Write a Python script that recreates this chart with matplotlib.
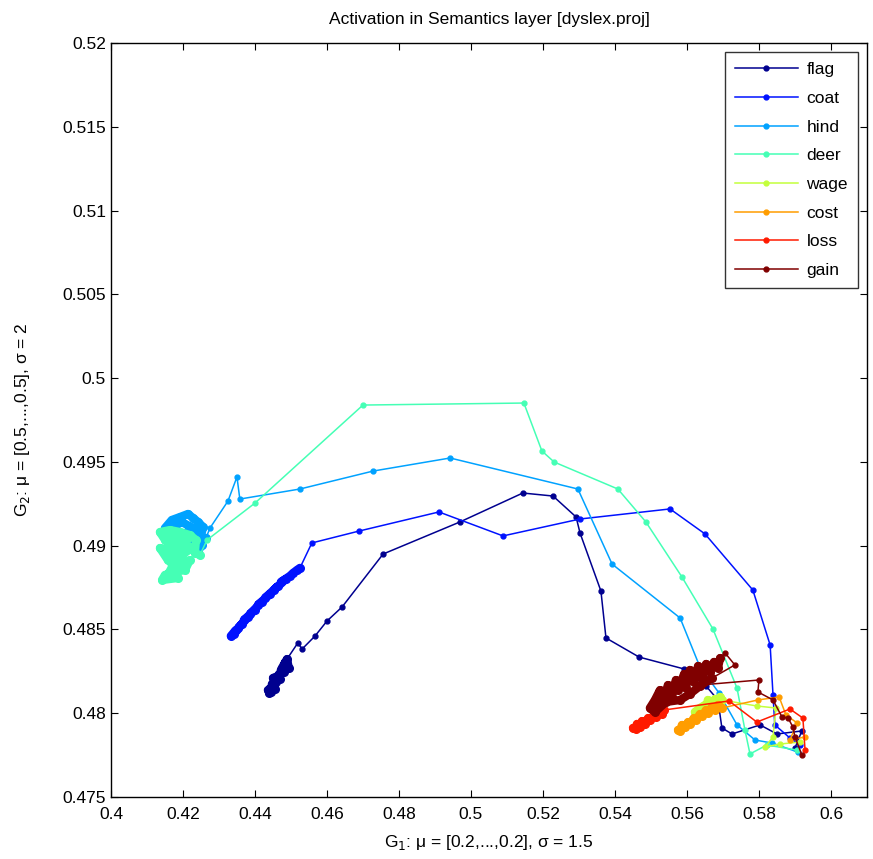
import numpy as np
import matplotlib
matplotlib.use("Agg")
from matplotlib import pyplot as plt

plt.rcParams['font.family'] = ['Liberation Sans', 'DejaVu Sans']

words = ["flag", "coat", "hind", "deer", "wage", "cost", "loss", "gain"]
colors = ['#00008F', '#0012FF', '#00A2FF', '#45FFB5', '#C3FF3C', '#FF9D00', '#FF1A00', '#800000']

# trajectories: from the common start (bottom right) out to the settling point
flag_path_x = [0.5900, 0.5919, 0.5850, 0.5803, 0.5725, 0.5697, 0.5686, 0.5653, 0.5592, 0.5467, 0.5375, 0.5361,
               0.5303, 0.5292, 0.5228, 0.5144, 0.4969, 0.4756, 0.4642, 0.4600, 0.4567, 0.4531, 0.4519]
flag_path_y = [0.47792, 0.47894, 0.47876, 0.47930, 0.47876, 0.47912, 0.48079, 0.48162, 0.48264, 0.48335, 0.48449, 0.48729,
               0.49075, 0.49171, 0.49296, 0.49314, 0.49141, 0.48950, 0.48634, 0.48550, 0.48461, 0.48383, 0.48419]
flag_end_x = [0.4489, 0.4494, 0.4481, 0.4486, 0.4475, 0.4472, 0.4481, 0.4467, 0.4464, 0.4450,
              0.4469, 0.4458, 0.4458, 0.4447, 0.4453, 0.4442, 0.4456, 0.4436, 0.4444, 0.4439]
flag_end_y = [0.48323, 0.48270, 0.48288, 0.48312, 0.48270, 0.48258, 0.48246, 0.48234, 0.48222, 0.48210,
              0.48204, 0.48198, 0.48186, 0.48174, 0.48162, 0.48150, 0.48144, 0.48138, 0.48127, 0.48121]

coat_path_x = [0.5914, 0.5886, 0.5844, 0.5839, 0.5831, 0.5783, 0.5650, 0.5553, 0.5303, 0.5089, 0.4911, 0.4689, 0.4558]
coat_path_y = [0.47810, 0.47852, 0.47930, 0.48109, 0.48407, 0.48735, 0.49070, 0.49219, 0.49159, 0.49058, 0.49201, 0.49087, 0.49016]
coat_end_x = [0.4525, 0.4517, 0.4506, 0.4497, 0.4472, 0.4486, 0.4453, 0.4464, 0.4428, 0.4442, 0.4408,
              0.4419, 0.4386, 0.4400, 0.4369, 0.4381, 0.4353, 0.4364, 0.4342, 0.4347, 0.4333]
coat_end_y = [0.48867, 0.48855, 0.48837, 0.48819, 0.48783, 0.48801, 0.48735, 0.48759, 0.48688, 0.48711, 0.48646,
              0.48664, 0.48592, 0.48616, 0.48556, 0.48574, 0.48508, 0.48532, 0.48473, 0.48497, 0.48461]

hind_path_x = [0.5908, 0.5836, 0.5789, 0.5739, 0.5689, 0.5636, 0.5581, 0.5392, 0.5297, 0.4942, 0.4728, 0.4525,
               0.4358, 0.4350, 0.4325, 0.4275]
hind_path_y = [0.47768, 0.47822, 0.47840, 0.47930, 0.48121, 0.48276, 0.48568, 0.48890, 0.49338, 0.49523, 0.49445, 0.49338,
               0.49278, 0.49410, 0.49266, 0.49105]
hind_end_x = [0.4264, 0.4247, 0.4256, 0.4242, 0.4228, 0.4214, 0.4192, 0.4169, 0.4150, 0.4178, 0.4197, 0.4217,
              0.4236, 0.4206, 0.4164, 0.4186, 0.4233, 0.4253, 0.4242, 0.4219]
hind_end_y = [0.49046, 0.49034, 0.49111, 0.49141, 0.49165, 0.49189, 0.49171, 0.49153, 0.49105, 0.49117, 0.49141, 0.49117,
              0.49093, 0.49075, 0.49075, 0.49046, 0.49046, 0.49004, 0.48968, 0.49004]

deer_path_x = [0.5906, 0.5822, 0.5775, 0.5761, 0.5739, 0.5672, 0.5586, 0.5486, 0.5408, 0.5231, 0.5197, 0.5147,
               0.4700, 0.4400, 0.4267]
deer_path_y = [0.47780, 0.47810, 0.47757, 0.47900, 0.48150, 0.48503, 0.48813, 0.49141, 0.49338, 0.49499, 0.49565, 0.49851,
               0.49839, 0.49254, 0.49034]
deer_end_x = [0.4247, 0.4233, 0.4236, 0.4219, 0.4192, 0.4164, 0.4136, 0.4150, 0.4178, 0.4206, 0.4225, 0.4197,
              0.4164, 0.4136, 0.4158, 0.4192, 0.4219, 0.4206, 0.4178, 0.4150, 0.4142, 0.4186,
              0.4172, 0.4158, 0.4194, 0.4168, 0.4212, 0.4147, 0.4183, 0.4161]
deer_end_y = [0.48944, 0.48956, 0.49034, 0.49063, 0.49081, 0.49093, 0.49081, 0.49034, 0.49034, 0.49004, 0.48986, 0.48944,
              0.48974, 0.48986, 0.48914, 0.48884, 0.48914, 0.48855, 0.48843, 0.48825, 0.48795, 0.48807,
              0.48870, 0.48945, 0.48960, 0.49010, 0.49040, 0.49058, 0.48925, 0.48838]

wage_path_x = [0.5914, 0.5858, 0.5817, 0.5839, 0.5847, 0.5794]
wage_path_y = [0.47828, 0.47816, 0.47798, 0.47858, 0.48031, 0.48043]
wage_end_x = [0.5697, 0.5692, 0.5686, 0.5678, 0.5669, 0.5664, 0.5658, 0.5653, 0.5650, 0.5636, 0.5622, 0.5636]
wage_end_y = [0.48079, 0.48097, 0.48061, 0.48085, 0.48037, 0.48067, 0.48079, 0.48019, 0.48049, 0.48031, 0.48007, 0.47995]

cost_path_x = [0.5928, 0.5886, 0.5906, 0.5875, 0.5856, 0.5797]
cost_path_y = [0.47858, 0.47840, 0.47942, 0.47989, 0.48097, 0.48079]
cost_end_x = [0.5697, 0.5686, 0.5678, 0.5669, 0.5658, 0.5653, 0.5642, 0.5636, 0.5625, 0.5619, 0.5608, 0.5603,
              0.5594, 0.5586, 0.5581, 0.5575]
cost_end_y = [0.48031, 0.48049, 0.48019, 0.48037, 0.48001, 0.48019, 0.47983, 0.47995, 0.47959, 0.47971, 0.47936, 0.47947,
              0.47918, 0.47930, 0.47894, 0.47900]

loss_path_x = [0.5928, 0.5922, 0.5886, 0.5794, 0.5717]
loss_path_y = [0.47780, 0.47971, 0.48025, 0.47947, 0.48073]
loss_end_x = [0.5536, 0.5531, 0.5525, 0.5514, 0.5508, 0.5497, 0.5492, 0.5483, 0.5475, 0.5469, 0.5461, 0.5458, 0.5450]
loss_end_y = [0.48019, 0.47995, 0.48013, 0.47977, 0.47989, 0.47959, 0.47971, 0.47936, 0.47953, 0.47918, 0.47936, 0.47906, 0.47912]

gain_path_x = [0.5919, 0.5900, 0.5894, 0.5881, 0.5864, 0.5839, 0.5797, 0.5800, 0.5636, 0.5733, 0.5706]
gain_path_y = [0.47751, 0.47858, 0.47918, 0.47971, 0.47977, 0.48079, 0.48127, 0.48198, 0.48168, 0.48288, 0.48359]
gain_end_x = [0.5692, 0.5686, 0.5675, 0.5664, 0.5653, 0.5642, 0.5631, 0.5619, 0.5608, 0.5597, 0.5592, 0.5575, 0.5569,
              0.5558, 0.5547, 0.5539, 0.5519, 0.5525, 0.5511, 0.5497, 0.5511, 0.5542, 0.5581, 0.5608, 0.5636, 0.5669]
gain_end_y = [0.48329, 0.48270, 0.48306, 0.48246, 0.48294, 0.48210, 0.48282, 0.48186, 0.48258, 0.48150, 0.48234, 0.48138, 0.48198,
              0.48091, 0.48168, 0.48109, 0.48049, 0.48138, 0.48079, 0.48031, 0.48007, 0.48067, 0.48079, 0.48115, 0.48162, 0.48210]

paths = [(flag_path_x, flag_path_y, flag_end_x, flag_end_y),
         (coat_path_x, coat_path_y, coat_end_x, coat_end_y),
         (hind_path_x, hind_path_y, hind_end_x, hind_end_y),
         (deer_path_x, deer_path_y, deer_end_x, deer_end_y),
         (wage_path_x, wage_path_y, wage_end_x, wage_end_y),
         (cost_path_x, cost_path_y, cost_end_x, cost_end_y),
         (loss_path_x, loss_path_y, loss_end_x, loss_end_y),
         (gain_path_x, gain_path_y, gain_end_x, gain_end_y)]

xticks = [0.4, 0.42, 0.44, 0.46, 0.48, 0.5, 0.52, 0.54, 0.56, 0.58, 0.6]
yticks = [0.475, 0.48, 0.485, 0.49, 0.495, 0.5, 0.505, 0.51, 0.515, 0.52]

fig = plt.figure(figsize=(8.73, 8.59), dpi=100)
ax = fig.add_axes([0.1271, 0.0722, 0.866, 0.8778])

for name, (px, py, ex, ey), c in zip(words, paths, colors):
    ax.plot(px + ex, py + ey, '.-', color=c, lw=1.1, ms=7, label=name)
    # the settled part is a dense blob of many small steps
    ax.plot(ex, ey, '.-', color=c, lw=6, ms=11, solid_capstyle='round', solid_joinstyle='round')

ax.set_xlim(0.4, 0.61)
ax.set_ylim(0.475, 0.52)
ax.set_xticks(xticks)
ax.set_xticklabels([f"{v:g}" for v in xticks])
ax.set_yticks(yticks)
ax.set_yticklabels([f"{v:g}" for v in yticks])
ax.tick_params(direction='in', top=True, right=True, length=5, labelsize=12.5)
ax.tick_params(axis='x', pad=7)
for s in ax.spines.values():
    s.set_linewidth(1.0)

ax.set_title("Activation in Semantics layer [dyslex.proj]", fontsize=12.5, pad=14)
ax.set_xlabel(r"G$_1$: μ = [0.2,...,0.2], σ = 1.5", fontsize=12.5, labelpad=8)
ax.set_ylabel(r"G$_2$: μ = [0.5,...,0.5], σ = 2", fontsize=12.5, labelpad=22)

leg = ax.legend(loc='upper right', fontsize=12.5, fancybox=False, edgecolor='black',
                handlelength=3.6, handletextpad=0.5, labelspacing=0.78, borderaxespad=0.5,
                borderpad=0.6)
leg.get_frame().set_linewidth(1.0)

fig.savefig("out.png", dpi=100)
